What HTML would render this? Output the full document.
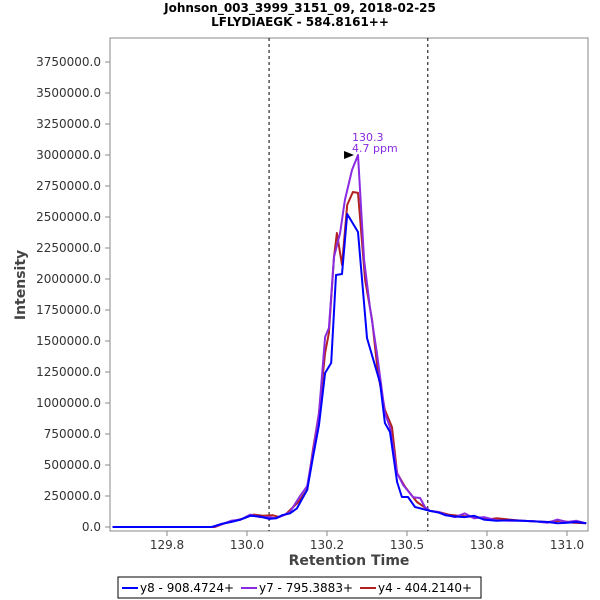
<!DOCTYPE html>
<html><head><meta charset="utf-8"><style>
body{margin:0;background:#fff;}
svg{display:block;font-family:"DejaVu Sans","Liberation Sans",sans-serif;}
</style></head><body>
<svg id="chart" width="600" height="600" viewBox="0 0 600 600" xmlns="http://www.w3.org/2000/svg">
<text x="300" y="12" text-anchor="middle" font-size="12" font-weight="bold">Johnson_003_3999_3151_09, 2018-02-25</text>
<text x="300" y="26" text-anchor="middle" font-size="12" font-weight="bold">LFLYDIAEGK - 584.8161++</text>
<rect x="110" y="38" width="478" height="493" fill="#fff" stroke="#888" stroke-width="1"/>
<g id="yticks"></g>
<g id="xticks"></g>
<g id="series"></g>
<text x="0" y="0" transform="translate(25,285) rotate(-90)" text-anchor="middle" font-size="14" font-weight="bold" fill="#444">Intensity</text>
<text x="349" y="565" text-anchor="middle" font-size="14" font-weight="bold" fill="#444">Retention Time</text>
<g>
<rect x="118" y="577" width="363" height="21" fill="#fff" stroke="#000"/>
<g><line x1="122" y1="588" x2="138" y2="588" stroke="#0000ff" stroke-width="2"/><text x="140" y="592" font-size="12">y8 - 908.4724+</text></g>
<g><line x1="241" y1="588" x2="257" y2="588" stroke="#8a2be2" stroke-width="2"/><text x="259" y="592" font-size="12">y7 - 795.3883+</text></g>
<g><line x1="360" y1="588" x2="376" y2="588" stroke="#b22222" stroke-width="2"/><text x="378" y="592" font-size="12">y4 - 404.2140+</text></g>
</g>
</svg>
<script>
const yTickValues=[0,250000,500000,750000,1000000,1250000,1500000,1750000,2000000,2250000,2500000,2750000,3000000,3250000,3500000,3750000];
const xTickValues=[129.75,130.0,130.25,130.5,130.75,131.0];
const xTickLabels=["129.8","130.0","130.2","130.5","130.8","131.0"];
const boundaryRts=[130.069,130.565];
const apexRt=130.347, apexValue=3000000;
const blueRt=[129.58,129.89,129.92,129.95,129.98,130.01,130.04,130.07,130.09,130.11,130.134,130.156,130.188,130.206,130.225,130.244,130.263,130.278,130.297,130.313,130.347,130.375,130.416,130.431,130.447,130.469,130.484,130.503,130.525,130.572,130.60,130.62,130.65,130.68,130.71,130.74,130.78,130.82,130.86,130.9,130.94,130.97,131.0,131.03,131.06];
const blueVal=[0,0,25000,40000,60000,90000,85000,65000,70000,95000,110000,150000,300000,560000,823000,1242000,1323000,2032000,2040000,2524000,2379000,1524000,1161000,839000,766000,363000,242000,242000,161000,130000,115000,95000,85000,80000,90000,60000,50000,55000,50000,45000,40000,30000,35000,40000,30000];
const purpleRt=[129.58,129.89,129.92,129.95,129.98,130.01,130.04,130.07,130.09,130.11,130.134,130.166,130.188,130.206,130.225,130.244,130.256,130.272,130.291,130.306,130.328,130.347,130.366,130.384,130.406,130.431,130.447,130.469,130.488,130.519,130.541,130.556,130.572,130.60,130.62,130.65,130.68,130.71,130.74,130.78,130.82,130.86,130.9,130.94,130.97,131.0,131.03,131.06];
const purpleVal=[0,0,20000,50000,60000,100000,80000,80000,70000,90000,120000,250000,330000,597000,919000,1532000,1605000,2178000,2371000,2637000,2879000,3000000,2153000,1774000,1403000,919000,806000,435000,339000,240000,234000,161000,130000,120000,100000,80000,110000,70000,80000,55000,50000,50000,45000,35000,60000,40000,50000,30000];
const redRt=[129.58,129.9,129.93,129.96,129.99,130.02,130.05,130.08,130.10,130.12,130.16,130.188,130.206,130.225,130.244,130.256,130.272,130.281,130.297,130.313,130.331,130.347,130.369,130.391,130.409,130.431,130.453,130.469,130.494,130.531,130.572,130.60,130.63,130.66,130.69,130.72,130.75,130.78,130.82,130.86,130.9,130.94,130.98,131.02,131.06];
const redVal=[0,0,30000,50000,70000,100000,90000,95000,80000,100000,200000,300000,621000,919000,1403000,1565000,2178000,2371000,2113000,2597000,2702000,2694000,1992000,1669000,1242000,944000,806000,435000,323000,202000,130000,120000,100000,90000,85000,80000,60000,70000,60000,50000,45000,40000,50000,35000,30000];

const NS="http://www.w3.org/2000/svg";
const yTop=38,yBase=527;
function xs(v){return 247+(v-130.0)*320;}
function ys(v){return yBase-v*(465/3750000);}
function mk(tag,attrs,parent){const e=document.createElementNS(NS,tag);for(const k in attrs)e.setAttribute(k,attrs[k]);parent.appendChild(e);return e;}
const yt=document.getElementById('yticks');
yTickValues.forEach(v=>{
  const y=ys(v);
  const l=mk('line',{x1:105,x2:110,y1:y,y2:y,stroke:'#888'},yt);
  
  
  const t=mk('text',{x:101,y:y+4,'text-anchor':'end','font-size':12,fill:'#333'},yt);
  
  
  t.textContent=v.toFixed(1);
});
const xt=document.getElementById('xticks');
xTickValues.forEach((v,i)=>{
  const x=xs(v);
  const l=mk('line',{x1:x,x2:x,y1:531,y2:536,stroke:'#888'},xt);
  
  
  const t=mk('text',{x:x,y:549,'text-anchor':'middle','font-size':12,fill:'#333'},xt);
  
  
  t.textContent=xTickLabels[i];
});
const sg=document.getElementById('series');
boundaryRts.forEach(v=>{
  const l=mk('line',{x1:xs(v),x2:xs(v),y1:yTop,y2:531,stroke:'#000','stroke-dasharray':'3,3','stroke-width':1},sg);
  
  
});
function drawSeries(rts,vals,color,name){
  const pts=rts.map((r,i)=>xs(r).toFixed(1)+','+ys(vals[i]).toFixed(1)).join(' ');
  const p=mk('polyline',{points:pts,fill:'none',stroke:color,'stroke-width':2,'stroke-linejoin':'round'},sg);
  
  
}
drawSeries(redRt,redVal,'#b22222','series-y4');
drawSeries(purpleRt,purpleVal,'#8a2be2','series-y7');
drawSeries(blueRt,blueVal,'#0000ff','series-y8');
const ax=xs(apexRt),ay=ys(apexValue);
const arr=mk('polygon',{points:(ax-14)+','+(ay-4)+' '+(ax-4)+','+ay+' '+(ax-14)+','+(ay+4),fill:'#000'},sg);


const a1=mk('text',{x:ax-6,y:ay-14,'font-size':11,fill:'#8a2be2'},sg);


a1.textContent='130.3';
const a2=mk('text',{x:ax-6,y:ay-3,'font-size':11,fill:'#8a2be2'},sg);


a2.textContent='4.7 ppm';
</script>
</body></html>
